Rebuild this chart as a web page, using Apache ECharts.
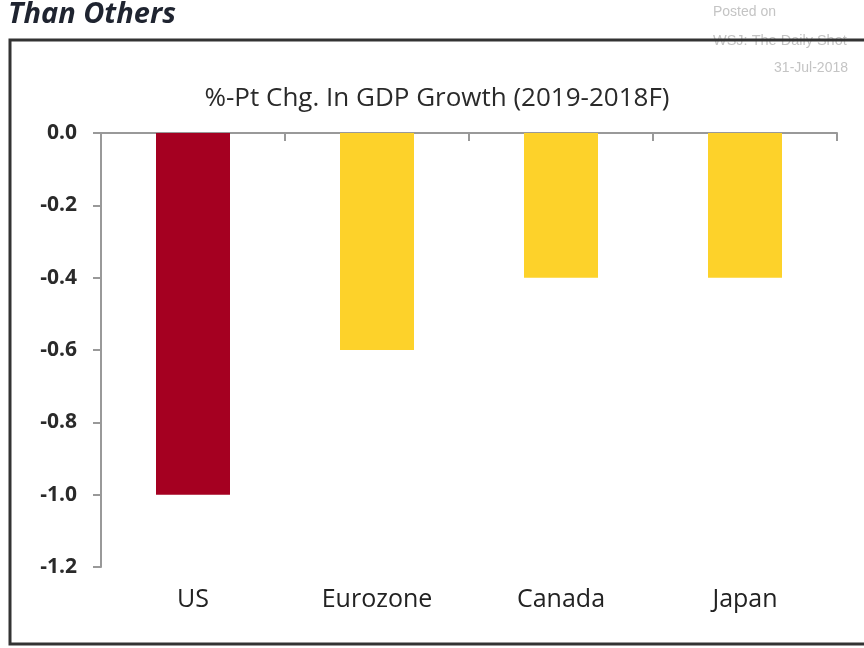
<!DOCTYPE html>
<html>
<head>
<meta charset="utf-8">
<script src="https://cdn.jsdelivr.net/npm/echarts@6/dist/echarts.min.js"></script>
<style>
  html, body { margin: 0; padding: 0; background: #fff; }
  #chart { width: 864px; height: 648px; }
</style>
</head>
<body>
<div id="chart"></div>
<script>
const categories = ['US', 'Eurozone', 'Canada', 'Japan'];
const values = [-1.0, -0.6, -0.4, -0.4];
const barColors = ['#a50021', '#fdd22a', '#fdd22a', '#fdd22a'];

let chart = echarts.init(document.getElementById('chart'));
let option = {
  backgroundColor: '#fff',
  animation: false,
  title: {
    text: '%-Pt Chg. In GDP Growth (2019-2018F)',
    left: 432,
    textAlign: 'center',
    top: 81,
    textStyle: {
      fontFamily: 'Open Sans',
      fontSize: 26,
      fontWeight: 'normal',
      color: '#2a2a2a'
    }
  },
  graphic: [
    {
      type: 'rect',
      shape: { x: 10, y: 40, width: 870, height: 604 },
      style: { fill: 'none', stroke: '#333', lineWidth: 3 },
      z: 1
    },
    {
      type: 'text',
      left: 8,
      top: 0,
      style: {
        text: 'Than Others',
        font: 'italic bold 29px "Open Sans"',
        fill: '#1f2430'
      }
    },
    {
      type: 'text',
      left: 713,
      top: 5,
      style: { text: 'Posted on', font: '14px "Liberation Sans"', fill: '#c4c4c4' }
    },
    {
      type: 'text',
      left: 713,
      top: 33,
      style: { text: 'WSJ: The Daily Shot', font: '14.5px "Liberation Sans"', fill: '#c4c4c4' }
    },
    {
      type: 'text',
      right: 16,
      top: 61,
      style: { text: '31-Jul-2018', font: '14px "Liberation Sans"', fill: '#c4c4c4', align: 'right' }
    }
  ],
  grid: {
    left: 101,
    right: 27,
    top: 133,
    bottom: 81
  },
  xAxis: [{
    type: 'category',
    data: categories,
    position: 'bottom',
    axisLine: { show: false, onZero: false },
    axisTick: { show: false },
    axisLabel: {
      margin: 20,
      fontFamily: 'Open Sans',
      fontSize: 25,
      color: '#222'
    }
  }, {
    type: 'category',
    data: categories,
    position: 'top',
    axisLine: { show: true, onZero: false, lineStyle: { color: '#999', width: 2 } },
    axisTick: { show: true, inside: true, length: 8, lineStyle: { color: '#999', width: 2 } },
    axisLabel: { show: false }
  }],
  yAxis: [{
    type: 'value',
    min: -1.2,
    max: 0,
    interval: 0.2,
    axisLine: { show: true, lineStyle: { color: '#999', width: 2 } },
    axisTick: { show: true, length: 8, lineStyle: { color: '#999', width: 2 } },
    splitLine: { show: false },
    axisLabel: {
      margin: 24,
      fontFamily: 'Open Sans',
      fontSize: 21,
      fontWeight: 'bold',
      color: '#2a2a2a',
      formatter: v => v.toFixed(1)
    }
  }],
  series: [{
    type: 'bar',
    xAxisIndex: 0,
    barWidth: 74,
    data: values.map((v, i) => ({ value: v, itemStyle: { color: barColors[i] } }))
  }]
};
chart.setOption(option);
</script>
</body>
</html>
